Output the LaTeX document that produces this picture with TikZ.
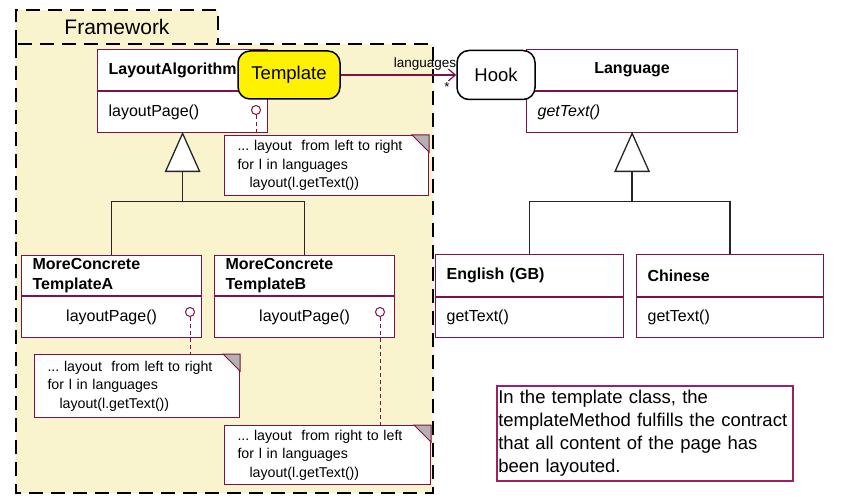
\documentclass[tikz,border=0pt]{standalone}
\usepackage{fontspec}
\setmainfont{Liberation Sans}
\usetikzlibrary{arrows.meta,positioning}
\frenchspacing

\definecolor{umlred}{RGB}{128,16,72}
\definecolor{remarkred}{RGB}{160,30,100}
\definecolor{fwfill}{RGB}{250,244,206}
\definecolor{foldgray}{RGB}{178,178,178}

\tikzset{
	fwedge/.style={line width=2.5pt, dash pattern=on 14pt off 8pt},
	clshead/.style={draw=umlred, line width=1.2pt, fill=white, anchor=north west, minimum height=41, inner xsep=11, inner ysep=0, align=left, font=\fontsize{16}{20}\selectfont\bfseries},
	clsbody/.style={draw=umlred, line width=1.2pt, fill=white, anchor=north west, minimum height=41, inner xsep=11, inner ysep=0, align=left, font=\fontsize{16}{20}\selectfont},
	note/.style={draw=umlred, line width=1pt, fill=white, anchor=north west, inner xsep=13, inner ysep=0, align=left, font=\fontsize{14.2}{18.5}\selectfont},
	fold/.style={draw=umlred, line width=1pt, fill=foldgray},
	lolly/.style={circle, draw=umlred, line width=1pt, fill=white, minimum size=9, inner sep=0},
	notelink/.style={draw=umlred, line width=1pt, dash pattern=on 4pt off 3pt},
	inhline/.style={draw=black!85, line width=1.3pt},
	bubble/.style={draw=black, line width=1.5pt, rounded corners=12, font=\fontsize{18.5}{22}\selectfont},
	assoc/.style={draw=umlred, line width=1.2pt, -{Straight Barb[length=7, width=12]}},
	remark/.style={draw=remarkred, line width=1.5pt, anchor=north west, inner xsep=1.5, inner ysep=0, text width=293, minimum height=95, align=left, font=\fontsize{18.5}{23}\selectfont}
}

\begin{document}
\begin{tikzpicture}[x=1pt, y=-1pt]
	\useasboundingbox (0,0) rectangle (841,500);

	% framework package
	\fill[fwfill] (16,10) rectangle (218,44);
	\fill[fwfill] (16,44) rectangle (433,493);
	\draw[fwedge] (16,44) -- (16,10) -- (218,10) -- (218,44);
	\draw[fwedge] (16,44) rectangle (433,493);
	\node[font=\fontsize{21}{24}\selectfont] (fwlabel) at (117,27) {Framework};

	% classes
	\node[clshead, minimum width=170, text width=148] (layH) at (97,49) {LayoutAlgorithm};
	\node[clsbody, minimum width=170, text width=148] (layB) at (layH.south west) {layoutPage()};
	\node[clshead, minimum width=211, text width=189, align=center] (langH) at (526,49) {Language};
	\node[clsbody, minimum width=211, text width=189, font=\fontsize{16}{20}\selectfont\itshape] (langB) at (langH.south west) {getText()};

	\node[clshead, minimum width=180, text width=158, minimum height=40] (mcAH) at (21,255) {MoreConcrete\\TemplateA};
	\node[clsbody, minimum width=180, text width=158, align=center] (mcAB) at (mcAH.south west) {layoutPage()};
	\node[clshead, minimum width=180, text width=158, minimum height=40] (mcBH) at (214,255) {MoreConcrete\\TemplateB};
	\node[clsbody, minimum width=180, text width=158, align=center] (mcBB) at (mcBH.south west) {layoutPage()};

	\node[clshead, minimum width=188, text width=166, minimum height=42] (engH) at (435,254) {English (GB)};
	\node[clsbody, minimum width=188, text width=166, minimum height=40] (engB) at (engH.south west) {getText()};
	\node[clshead, minimum width=187, text width=165, minimum height=42] (chiH) at (636,254) {Chinese};
	\node[clsbody, minimum width=187, text width=165, minimum height=40] (chiB) at (chiH.south west) {getText()};

	% inheritance
	\draw[inhline, fill=white] (layB.south) -- ++(-17,38) -- ++(34,0) -- cycle;
	\draw[inhline] (layB.south) ++(0,38) -- ++(0,30) coordinate (forkL);
	\draw[inhline] (mcAH.north) |- (forkL) -| (mcBH.north);
	\draw[inhline, fill=white] (langB.south) -- ++(-17,38) -- ++(34,0) -- cycle;
	\draw[inhline] (langB.south) ++(0,38) -- ++(0,30) coordinate (forkR);
	\draw[inhline] (engH.north) |- (forkR) -| (chiH.north);

	% notes
	\node[note, text width=178, minimum height=60] (note1) at (224,135) {... layout\ \ from left to right\\for l in languages\\\hspace*{12pt}layout(l.getText())};
	\node[note, text width=179, minimum height=63] (noteA) at (34,354) {... layout\ \ from left to right\\for l in languages\\\hspace*{12pt}layout(l.getText())};
	\node[note, text width=180, minimum height=59] (noteB) at (224,425) {... layout\ \ from right to left\\for l in languages\\\hspace*{12pt}layout(l.getText())};
	\foreach \n in {note1,noteA,noteB}
		\draw[fold] (\n.north east) ++(-17,0) -- ++(17,17) -- (\n.north east) -- cycle;

	\node[lolly] (lolL) at (256,110) {};
	\node[lolly] (lolA) at (190,312) {};
	\node[lolly] (lolB) at (380,312) {};
	\draw[notelink] (lolL.south) -- (lolL.south |- note1.north);
	\draw[notelink] (lolA.south) -- (lolA.south |- noteA.north);
	\draw[notelink] (lolB.south) -- (lolB.south |- noteB.north);

	% template and hook
	\node[bubble, fill=yellow, minimum width=102, minimum height=48] (tpl) at (289,75) {Template};
	\node[bubble, fill=white, minimum width=78, minimum height=49] (hook) at (496,75) {Hook};
	\draw[assoc] (tpl.east) -- (tpl.east -| hook.west)
		node[pos=0.73, above=1pt, font=\fontsize{13.5}{16}\selectfont] {languages}
		node[pos=0.92, below=4pt, font=\fontsize{13}{16}\selectfont] {*};

	% remark
	\node[remark] (remark) at (496,385) {In the template class, the\\templateMethod fulfills the contract\\that all content of the page has\\been layouted.};
\end{tikzpicture}
\end{document}
